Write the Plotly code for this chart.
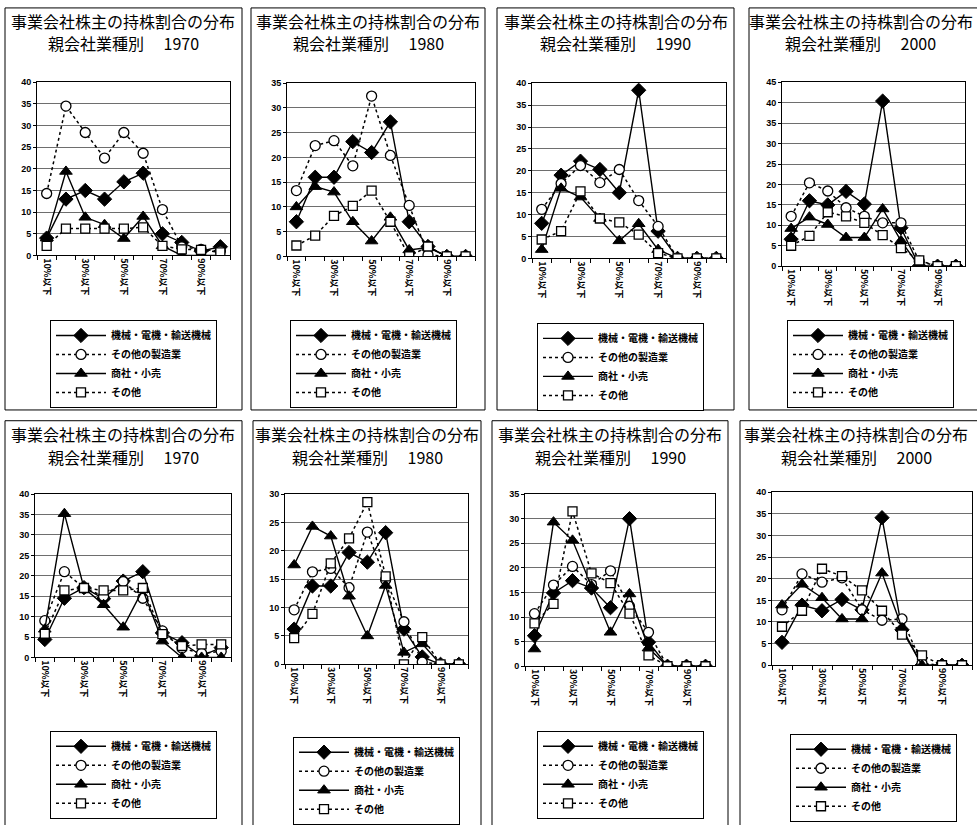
import plotly.graph_objects as go

# ---- data -------------------------------------------------------------
categories = ["10%以下", "20%以下", "30%以下", "40%以下", "50%以下",
              "60%以下", "70%以下", "80%以下", "90%以下", "100%以下"]
labelled_categories = ["10%以下", "30%以下", "50%以下", "70%以下", "90%以下"]
series_names = ["機械・電機・輸送機械", "その他の製造業", "商社・小売", "その他"]
title_main = "事業会社株主の持株割合の分布"
title_sub = "親会社業種別"
panel_years = ["1970", "1980", "1990", "2000", "1970", "1980", "1990", "2000"]
panel_ymax = [40, 35, 40, 45, 40, 30, 35, 40]

# upper row
u1970_machinery = [4, 13, 15, 13, 17, 19, 5, 3, 1, 2]
u1970_other_mfg = [14.3, 34.5, 28.4, 22.5, 28.4, 23.6, 10.6, 2, 1.4, 1]
u1970_trading = [4, 19.4, 8.8, 7.1, 3.9, 9, 2.2, 0, 0, 0]
u1970_other = [2.2, 6.2, 6.2, 6.2, 6.2, 6.5, 2.2, 1.4, 1.3, 0.7]

u1980_machinery = [7, 16, 16, 23.2, 21, 27.2, 7, 2, 0, 0]
u1980_other_mfg = [13.3, 22.4, 23.4, 18.3, 32.4, 20.4, 10.3, 0.3, 0, 0]
u1980_trading = [10, 14.1, 13, 7, 3.1, 7.9, 1.3, 1.8, 0, 0]
u1980_other = [2.2, 4.2, 8.2, 10.2, 13.3, 7, 0, 2, 0, 0]

u1990_machinery = [8, 19, 22.2, 20.3, 15, 38.4, 6.2, 0, 0, 0]
u1990_other_mfg = [11.2, 17.1, 21.2, 17.3, 20.3, 13.2, 7.3, 0, 0, 0]
u1990_trading = [2, 16, 14, 9.1, 4, 7.9, 2, 0, 0, 0]
u1990_other = [4.3, 6.2, 15.3, 9.1, 8.2, 5.4, 1.2, 0, 0, 0]

u2000_machinery = [6.6, 16, 15, 18.3, 15.2, 40.4, 9.4, 0, 0, 0]
u2000_other_mfg = [12.2, 20.4, 18.4, 14.3, 12.2, 10.6, 10.6, 1.2, 0, 0]
u2000_trading = [9.2, 12, 10.2, 7, 7, 14, 6.2, 0, 0, 0]
u2000_other = [5, 7.4, 13.2, 12.2, 10.6, 7.6, 4.4, 1.4, 0, 0]

# lower row
l1970_machinery = [4.4, 14.5, 17.1, 14.4, 18.7, 21, 6, 3.6, 0.4, 2.4]
l1970_other_mfg = [9, 21, 17, 15, 18.6, 14.5, 6.5, 2.3, 1, 1.5]
l1970_trading = [6.9, 35.2, 17, 12.9, 7.4, 16.6, 4, 0, 0, 0]
l1970_other = [5.8, 16.4, 17, 16.4, 16.4, 17, 5.7, 2.8, 3.2, 3.2]

l1980_machinery = [6.2, 13.8, 13.8, 19.7, 18, 23.2, 6.2, 1.3, 0, 0]
l1980_other_mfg = [9.6, 16.3, 16.9, 13.5, 23.3, 14.9, 7.5, 0.4, 0, 0]
l1980_trading = [17.5, 24.3, 22.6, 12, 5, 13.9, 2.1, 3.6, 0, 0]
l1980_other = [4.6, 8.9, 17.8, 22.2, 28.6, 15.5, 0, 4.8, 0, 0]

l1990_machinery = [6.2, 14.9, 17.4, 15.9, 11.9, 30, 4.9, 0, 0, 0]
l1990_other_mfg = [10.7, 16.5, 20.3, 16.6, 19.4, 12.2, 6.9, 0, 0, 0]
l1990_trading = [3.5, 29.3, 25.6, 16.3, 6.9, 14.7, 3.7, 0, 0, 0]
l1990_other = [8.7, 12.7, 31.5, 18.9, 16.9, 10.7, 2.2, 0, 0, 0]

l2000_machinery = [5.3, 13.9, 12.6, 15.2, 12.8, 34.1, 8.2, 0, 0, 0]
l2000_other_mfg = [12.8, 21.1, 19.2, 20.2, 12.8, 10.4, 10.7, 0.4, 0, 0]
l2000_trading = [13.9, 18.7, 15.6, 10.7, 10.7, 21.3, 8.6, 0, 0, 0]
l2000_other = [8.9, 12.6, 22.3, 20.6, 17.3, 12.6, 7.1, 2.3, 0, 0]

panel_series = [
    [u1970_machinery, u1970_other_mfg, u1970_trading, u1970_other],
    [u1980_machinery, u1980_other_mfg, u1980_trading, u1980_other],
    [u1990_machinery, u1990_other_mfg, u1990_trading, u1990_other],
    [u2000_machinery, u2000_other_mfg, u2000_trading, u2000_other],
    [l1970_machinery, l1970_other_mfg, l1970_trading, l1970_other],
    [l1980_machinery, l1980_other_mfg, l1980_trading, l1980_other],
    [l1990_machinery, l1990_other_mfg, l1990_trading, l1990_other],
    [l2000_machinery, l2000_other_mfg, l2000_trading, l2000_other],
]

# ---- layout geometry (pixels in a 977 x 825 page) ----------------------
W, H = 977, 825
plot_boxes = [(37, 230, 79, 256), (287, 475, 80, 257), (532, 726, 80, 259), (782, 965, 79, 267),
              (35, 231, 500, 667), (285, 468, 500, 674), (525, 715, 500, 676), (772, 972, 498, 675)]
frame_boxes = [(5, 242, 3, 414), (251, 485, 3, 414), (497, 734, 3, 414), (749, 995, 3, 414),
               (5, 242, 425, 845), (253, 481, 425, 845), (492, 728, 425, 845), (740, 995, 425, 845)]
legend_corners = [(50, 322), (290, 322), (537, 325), (787, 322),
                  (50, 742), (293, 748), (537, 742), (790, 745)]
title_rows = [(16, 39)] * 4 + [(439, 462)] * 4


def fx(x):
    return x / W


def fy(y):
    return 1 - y / H


line_styles = [
    dict(line=dict(color="black", width=1.4, dash="solid"),
         marker=dict(symbol="diamond", size=11, color="black", line=dict(color="black", width=1))),
    dict(line=dict(color="black", width=1.5, dash="dot"),
         marker=dict(symbol="circle", size=10, color="white", line=dict(color="black", width=1.3))),
    dict(line=dict(color="black", width=1.4, dash="solid"),
         marker=dict(symbol="triangle-up", size=11, color="black", line=dict(color="black", width=1))),
    dict(line=dict(color="black", width=1.5, dash="dot"),
         marker=dict(symbol="square", size=9, color="white", line=dict(color="black", width=1.3))),
]

fig = go.Figure()
layout = dict(
    width=W, height=H, margin=dict(l=0, r=0, t=0, b=0),
    paper_bgcolor="white", plot_bgcolor="white",
    showlegend=True, shapes=[], annotations=[],
)

tick_text = [c if c in labelled_categories else "" for c in categories]

for i in range(8):
    n = i + 1
    sfx = "" if n == 1 else str(n)
    leg = "legend" + sfx
    for s in range(4):
        st = line_styles[s]
        fig.add_trace(go.Scatter(
            x=categories, y=panel_series[i][s], name=series_names[s],
            mode="lines+markers", line=st["line"], marker=st["marker"],
            xaxis="x" + sfx, yaxis="y" + sfx, legend=leg,
        ))

    x0, x1, y0, y1 = plot_boxes[i]
    layout["xaxis" + sfx] = dict(
        domain=[fx(x0), fx(x1)], anchor="y" + sfx, type="category",
        categoryorder="array", categoryarray=categories,
        range=[-0.5, len(categories) - 0.5],
        tickmode="array", tickvals=categories, ticktext=tick_text,
        tickangle=90, tickson="boundaries", ticks="outside", ticklen=4,
        tickcolor="black", showgrid=False, showline=True, linecolor="black",
        linewidth=1, mirror=True,
        tickfont=dict(family="Noto Sans CJK JP", size=9, color="black", weight="bold"),
    )
    layout["yaxis" + sfx] = dict(
        domain=[fy(y1), fy(y0)], anchor="x" + sfx,
        range=[0, panel_ymax[i]], dtick=5, tick0=0,
        ticks="outside", ticklen=3, tickcolor="black",
        showgrid=True, gridcolor="#6e6e6e", gridwidth=1, zeroline=False,
        showline=True, linecolor="black", linewidth=1, mirror=True,
        tickfont=dict(family="Liberation Sans", size=9, color="black", weight="bold"),
    )

    lx, ly = legend_corners[i]
    layout[leg] = dict(
        x=fx(lx), y=fy(ly), xanchor="left", yanchor="top",
        bgcolor="white", bordercolor="black", borderwidth=1,
        itemwidth=50, tracegroupgap=0,
        font=dict(family="Noto Sans CJK JP", size=10, color="black", weight="bold"),
    )

    fx0, fx1, fy0, fy1 = frame_boxes[i]
    layout["shapes"].append(dict(
        type="rect", xref="paper", yref="paper",
        x0=fx(fx0), x1=fx(fx1), y0=fy(fy1), y1=fy(fy0),
        line=dict(color="black", width=1), fillcolor="rgba(0,0,0,0)", layer="below",
    ))

    cx = fx((fx0 + min(fx1, 972)) / 2)
    r1, r2 = title_rows[i]
    layout["annotations"].append(dict(
        text=title_main, x=cx, y=fy(r1), xref="paper", yref="paper",
        xanchor="center", yanchor="middle", showarrow=False,
        font=dict(family="Noto Sans CJK JP", size=16, color="black"),
    ))
    layout["annotations"].append(dict(
        text=title_sub + "　 " + panel_years[i], x=cx, y=fy(r2), xref="paper", yref="paper",
        xanchor="center", yanchor="middle", showarrow=False,
        font=dict(family="Noto Sans CJK JP", size=16, color="black"),
    ))

fig.update_layout(**layout)
fig.write_html("out.html")
